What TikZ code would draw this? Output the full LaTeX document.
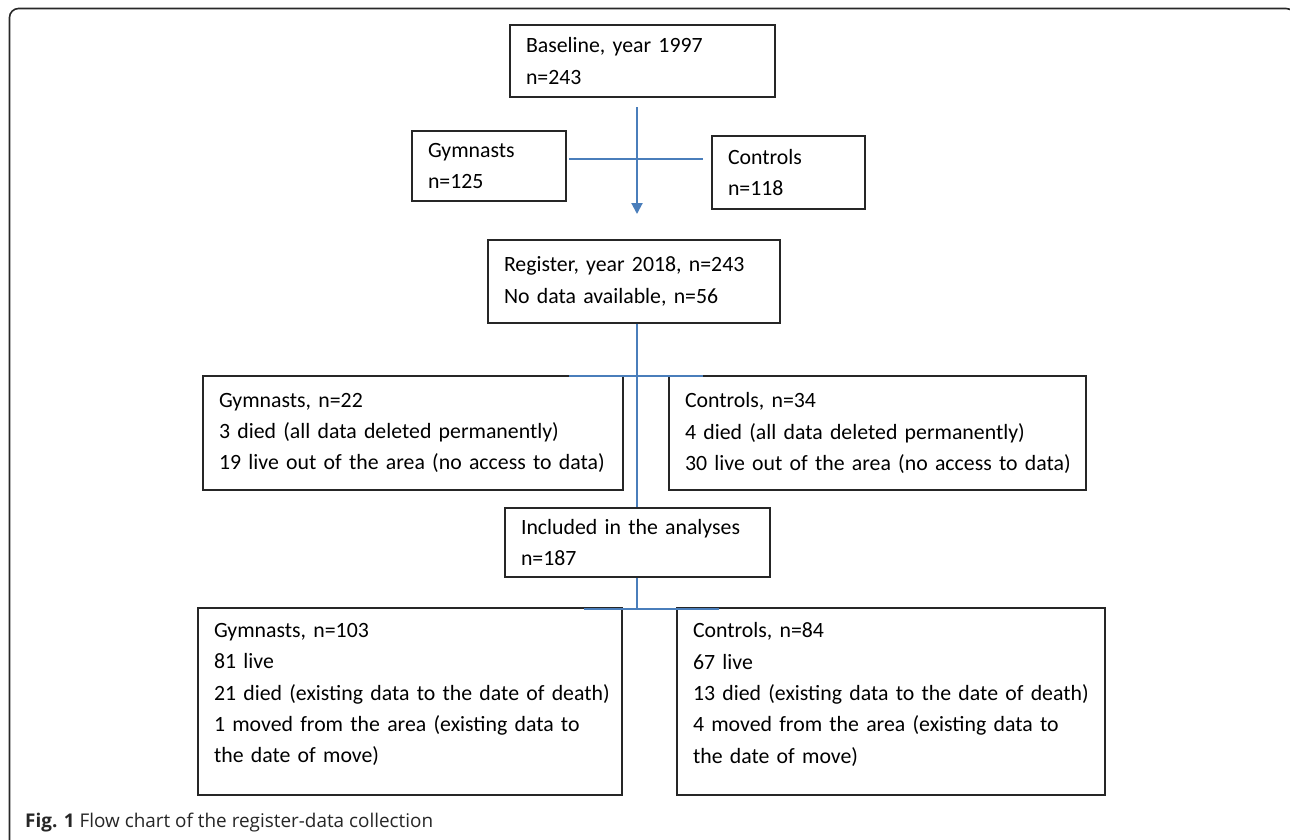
\documentclass[tikz,border=0pt]{standalone}
\usepackage{fontspec}
\setmainfont{Carlito}
\newfontfamily\capfont{Open Sans}
\usetikzlibrary{arrows.meta}
\definecolor{linkblue}{RGB}{74,126,187}
\definecolor{framegray}{RGB}{40,40,40}
\begin{document}
\begin{tikzpicture}[x=1pt,y=-1pt,
  box/.style={draw=black!85, line width=1.1pt, inner xsep=16pt, inner ysep=0pt, align=left,
    font=\fontsize{21.8}{31.3}\selectfont, text=black},
  link/.style={draw=linkblue, line width=2pt},
  arr/.style={link, -{Triangle[length=11pt,width=11pt]}}
]
\useasboundingbox (0,0) rectangle (1290,839);
\clip (0,0) rectangle (1290,839);
\draw[framegray, line width=1.6pt, rounded corners=9pt] (9.5,8.5) rectangle (1295,850);

\node[box, text width=233pt, minimum height=72pt] (base) at (642.5,61) {\mbox{Baseline, year 1997}\\n=243};
\node[box, text width=122pt, minimum height=70pt] (gym) at (489,166) {Gymnasts\\n=125};
\node[box, text width=121pt, minimum height=73pt] (con) at (788.5,172.5) {Controls\\n=118};
\node[box, text width=260pt, minimum height=83pt] (reg) at (634,281.5) {\mbox{Register, year 2018, n=243}\\\mbox{No data available, n=56}};
\node[box, text width=388pt, minimum height=114pt] (gym2) at (413,433) {Gymnasts, n=22\\\mbox{3 died (all data deleted permanently)}\\\mbox{19 live out of the area (no access to data)}};
\node[box, text width=385pt, minimum height=114pt] (con2) at (877.5,433) {Controls, n=34\\\mbox{4 died (all data deleted permanently)}\\\mbox{30 live out of the area (no access to data)}};
\node[box, text width=233pt, minimum height=69pt] (inc) at (637.5,542.5) {\mbox{Included in the analyses}\\n=187};
\node[box, text width=392pt, minimum height=187pt] (gym3) at (410,701.5) {Gymnasts, n=103\\81 live\\\mbox{21 died (existing data to the date of death)}\\\mbox{1 moved from the area (existing data to}\\the date of move)\par\vspace{14pt}};
\node[box, text width=396pt, minimum height=187pt] (con3) at (891,701.5) {Controls, n=84\\67 live\\\mbox{13 died (existing data to the date of death)}\\\mbox{4 moved from the area (existing data to}\\the date of move)\par\vspace{14pt}};

\coordinate (a1) at (637,107);
\coordinate (a2) at (637,214);
\draw[arr] (a1) -- (a2);
\coordinate (h1) at (569,159);
\coordinate (h2) at (703,159);
\draw[link] (h1) -- (h2);

\coordinate (v1) at (637,376);
\draw[link] (reg.south -| v1) -- (inc.north -| v1);
\coordinate (h3) at (569,376);
\coordinate (h4) at (703,376);
\draw[link] (h3) -- (h4);

\coordinate (v2) at (637,608.5);
\draw[link] (inc.south -| v2) -- (v2);
\coordinate (h5) at (584,608.5);
\coordinate (h6) at (719,608.5);
\draw[link] (h5) -- (h6);

\node[anchor=base west, inner sep=0pt, font=\capfont\fontsize{18.9}{22}\selectfont, text=black!85] (cap) at (25,827) {\textbf{Fig. 1} Flow chart of the register-data collection};
\end{tikzpicture}
\end{document}
